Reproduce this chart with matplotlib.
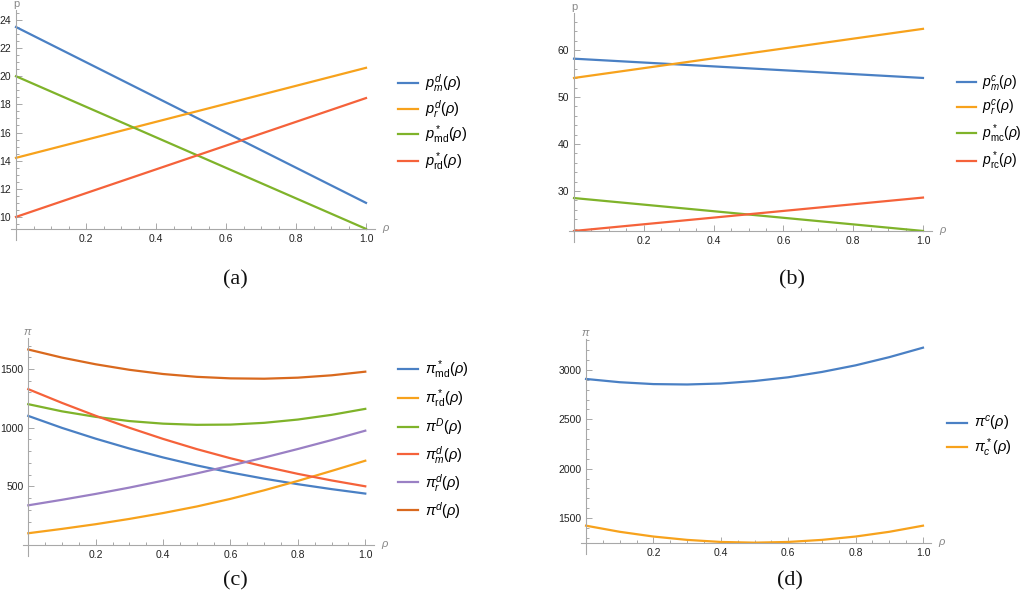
import matplotlib
matplotlib.use('Agg')
import matplotlib.pyplot as plt
from matplotlib.ticker import FixedLocator

plt.rcParams['font.family'] = ['Liberation Sans', 'DejaVu Sans']
plt.rcParams['mathtext.fontset'] = 'custom'
plt.rcParams['mathtext.rm'] = 'Liberation Sans'
plt.rcParams['mathtext.it'] = 'Liberation Sans:italic'
plt.rcParams['mathtext.bf'] = 'Liberation Sans:bold'

# data
rho_ends = [0.0, 1.0]
rho = [0.0, 0.1, 0.2, 0.3, 0.4, 0.5, 0.6, 0.7, 0.8, 0.9, 1.0]

# (a) decentralised prices
a_pm_d = [23.5, 11.0]
a_pr_d = [14.2, 20.6]
a_pmd_star = [20.0, 9.15]
a_prd_star = [10.0, 18.45]

# (b) centralised prices
b_pm_c = [58.15, 54.05]
b_pr_c = [54.05, 64.5]
b_pmc_star = [28.5, 21.5]
b_prc_star = [21.5, 28.6]

# (c) decentralised profits
c_pi_md_star = [1100, 998, 906, 822, 746, 678, 618, 565, 518, 476, 438]
c_pi_rd_star = [100, 137, 177, 222, 272, 328, 393, 466, 546, 631, 718]
c_pi_D = [1200, 1139, 1092, 1056, 1034, 1024, 1026, 1041, 1069, 1109, 1160]
c_pi_m_d = [1328, 1211, 1101, 999, 904, 817, 739, 669, 606, 550, 500]
c_pi_r_d = [338, 385, 435, 489, 548, 610, 676, 745, 818, 894, 974]
c_pi_d = [1666, 1597, 1540, 1493, 1457, 1433, 1420, 1417, 1426, 1446, 1477]

# (d) centralised profits
d_pi_c = [2909, 2876, 2857, 2853, 2863, 2888, 2926, 2980, 3047, 3130, 3226]
d_pi_c_star = [1422, 1360, 1312, 1278, 1257, 1250, 1257, 1278, 1312, 1360, 1422]

BLUE = '#4a80c4'
ORANGE = '#f7a21c'
GREEN = '#7fb32a'
RED = '#f5623a'
PURPLE = '#9a80c4'
DKORANGE = '#d9691e'
AXIS = '#a8a8a8'

W, H = 1024, 612
fig = plt.figure(figsize=(W / 100, H / 100), dpi=100)


def px_axes(x0, x1, y_top, y_bot):
    return fig.add_axes([x0 / W, 1 - y_bot / H, (x1 - x0) / W, (y_bot - y_top) / H])


def style(ax, ylim, y_axis, yticks, yminor, ylab):
    xlim = (-0.015, 1.025)
    ax.set_xlim(xlim)
    ax.set_ylim(ylim)
    ax.patch.set_visible(False)
    for s in ['top', 'right']:
        ax.spines[s].set_visible(False)
    ax.spines['left'].set_position(('data', 0))
    ax.spines['bottom'].set_position(('data', y_axis))
    for s in ['left', 'bottom']:
        ax.spines[s].set_color(AXIS)
        ax.spines[s].set_linewidth(0.8)
    ax.xaxis.set_major_locator(FixedLocator([0.2, 0.4, 0.6, 0.8, 1.0]))
    ax.xaxis.set_minor_locator(FixedLocator([i * 0.05 for i in range(1, 21)]))
    ax.set_xticklabels(['0.2', '0.4', '0.6', '0.8', '1.0'])
    ax.yaxis.set_major_locator(FixedLocator(yticks))
    # minor ticks on the y axis, from the x axis up to the top
    mins = []
    v = yticks[0]
    while v - yminor >= y_axis:
        v -= yminor
    while v <= ylim[1]:
        mins.append(v)
        v += yminor
    ax.yaxis.set_minor_locator(FixedLocator(mins))
    ax.tick_params(which='both', direction='in', color=AXIS, width=0.7,
                   labelsize=7.5, labelcolor='#222222', pad=3.5)
    ax.tick_params(which='major', length=4)
    ax.tick_params(which='minor', length=2.2)
    ax.annotate(ylab, xy=(0, ylim[1]), xytext=(0, 1), textcoords='offset points',
                ha='center', va='bottom', color='#888888', fontsize=8,
                annotation_clip=False)
    ax.annotate(r'$\rho$', xy=(xlim[1], y_axis), xytext=(5, 0), textcoords='offset points',
                ha='left', va='center', color='#888888', fontsize=8,
                annotation_clip=False)


def legend(ax, x_px, y_px, spacing, size=10.5):
    ax.legend(loc='center left', bbox_to_anchor=(x_px / W, 1 - y_px / H),
              bbox_transform=fig.transFigure, frameon=False, fontsize=size,
              handlelength=1.4, handletextpad=0.45, borderpad=0, borderaxespad=0,
              labelspacing=spacing)


LW = 1.6

# (a)
ax = px_axes(10.75, 374.75, 10, 240)
ax.plot(rho_ends, a_pm_d, color=BLUE, lw=LW, label=r'$p_m^d(\rho)$')
ax.plot(rho_ends, a_pr_d, color=ORANGE, lw=LW, label=r'$p_r^d(\rho)$')
ax.plot(rho_ends, a_pmd_star, color=GREEN, lw=LW, label=r'$p^*_{\mathrm{md}}(\rho)$')
ax.plot(rho_ends, a_prd_star, color=RED, lw=LW, label=r'$p^*_{\mathrm{rd}}(\rho)$')
style(ax, (8.36, 24.71), 9.15, [10, 12, 14, 16, 18, 20, 22, 24], 0.5, 'p')
legend(ax, 398, 122.5, 0.26)

# (b)
ax = px_axes(568.8, 931.7, 13, 242)
ax.plot(rho_ends, b_pm_c, color=BLUE, lw=LW, label=r'$p_m^c(\rho)$')
ax.plot(rho_ends, b_pr_c, color=ORANGE, lw=LW, label=r'$p_r^c(\rho)$')
ax.plot(rho_ends, b_pmc_star, color=GREEN, lw=LW, label=r'$p^*_{\mathrm{mc}}(\rho)$')
ax.plot(rho_ends, b_prc_star, color=RED, lw=LW, label=r'$p^*_{\mathrm{rc}}(\rho)$')
style(ax, (19.15, 67.87), 21.5, [30, 40, 50, 60], 2, 'p')
legend(ax, 956.7, 123, 0.33, size=10)

# (c)
ax = px_axes(23.2, 373.7, 338, 556)
ax.plot(rho, c_pi_md_star, color=BLUE, lw=LW, label=r'$\pi^*_{\mathrm{md}}(\rho)$')
ax.plot(rho, c_pi_rd_star, color=ORANGE, lw=LW, label=r'$\pi^*_{\mathrm{rd}}(\rho)$')
ax.plot(rho, c_pi_D, color=GREEN, lw=LW, label=r'$\pi^D(\rho)$')
ax.plot(rho, c_pi_m_d, color=RED, lw=LW, label=r'$\pi_m^d(\rho)$')
ax.plot(rho, c_pi_r_d, color=PURPLE, lw=LW, label=r'$\pi_r^d(\rho)$')
ax.plot(rho, c_pi_d, color=DKORANGE, lw=LW, label=r'$\pi^d(\rho)$')
style(ax, (-94, 1764), 0, [500, 1000, 1500], 100, r'$\pi$')
legend(ax, 398, 439.7, 0.42)

# (d)
ax = px_axes(581, 931.4, 339, 554)
ax.plot(rho, d_pi_c, color=BLUE, lw=LW, label=r'$\pi^c(\rho)$')
ax.plot(rho, d_pi_c_star, color=ORANGE, lw=LW, label=r'$\pi^*_c(\rho)$')
style(ax, (1135, 3314), 1247, [1500, 2000, 2500, 3000], 100, r'$\pi$')
legend(ax, 947, 436.5, 0.22)

for lab, x, y in [('(a)', 235, 280), ('(b)', 792, 280), ('(c)', 235, 581), ('(d)', 790, 581)]:
    fig.text(x / W, 1 - y / H, lab, ha='center', va='center', fontsize=16,
             family='Liberation Serif', color='#111111')

fig.savefig('out.png', dpi=100)
